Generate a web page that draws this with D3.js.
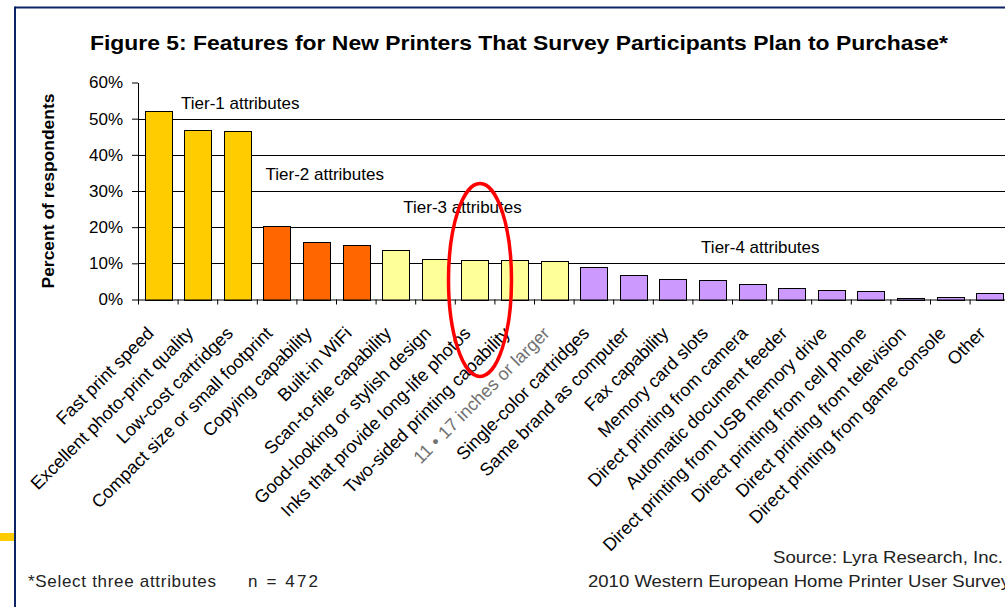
<!DOCTYPE html>
<html><head><meta charset="utf-8">
<script src="https://cdn.jsdelivr.net/npm/d3@7"></script>
<style>
body{margin:0;background:#fff;overflow:hidden;}
svg{display:block;font-family:"Liberation Sans",Arial,sans-serif;}
</style>
</head><body>
<svg id="c" width="1005" height="607"></svg>
<script>
// ---------- data ----------
const categories = [
  "Fast print speed","Excellent photo-print quality","Low-cost cartridges",
  "Compact size or small footprint","Copying capability","Built-in WiFi",
  "Scan-to-file capability","Good-looking or stylish design",
  "Inks that provide long-life photos","Two-sided printing capability",
  "11 \u2022 17 inches or larger","Single-color cartridges","Same brand as computer",
  "Fax capability","Memory card slots","Direct printing from camera",
  "Automatic document feeder","Direct printing from USB memory drive",
  "Direct printing from cell phone","Direct printing from television",
  "Direct printing from game console","Other"
];
const values = [0.520,0.468,0.465,0.204,0.158,0.152,0.138,0.113,0.109,0.109,0.106,
                0.090,0.069,0.057,0.053,0.042,0.032,0.026,0.023,0.004,0.006,0.017];
const tiers = [1,1,1,2,2,2,3,3,3,3,3,4,4,4,4,4,4,4,4,4,4,4];
const tierNames = ["Tier-1 attributes","Tier-2 attributes","Tier-3 attributes","Tier-4 attributes"];
const yTickValues = [0,0.1,0.2,0.3,0.4,0.5,0.6];
const titleText = "Figure 5: Features for New Printers That Survey Participants Plan to Purchase*";
const yTitle = "Percent of respondents";
const footLeft = ["*Select three attributes","n = 472"];
const footRight = ["Source: Lyra Research, Inc.","2010 Western European Home Printer User Survey"];

// ---------- layout / style ----------
const tierColors = {1:"#FFCC00",2:"#FF6600",3:"#FFFF99",4:"#CC99FF"};
const X0 = 138, X1 = 1009.2, Y0 = 299.5, Y1 = 82.5;
const svg = d3.select("#c");

// frame
svg.append("line").attr("x1",15).attr("x2",1005).attr("y1",7.5).attr("y2",7.5)
  .attr("stroke","#0C2466").attr("stroke-width",2);
svg.append("line").attr("x1",15).attr("x2",15).attr("y1",6.5).attr("y2",607)
  .attr("stroke","#0C2466").attr("stroke-width",2);
svg.append("rect").attr("x",0).attr("y",533).attr("width",14).attr("height",8).attr("fill","#FFCC00");

// title
svg.append("text").attr("x",90).attr("y",50).attr("font-size",21).attr("font-weight","bold")
  .attr("textLength",858).attr("lengthAdjust","spacingAndGlyphs").attr("fill","#000").text(titleText);

// scales
const x = d3.scaleBand().domain(categories).range([X0,X1]).paddingInner(0.33).paddingOuter(0.165);
const y = d3.scaleLinear().domain([0,0.6]).range([Y0,Y1]);
const xl = d3.scaleLinear().domain([0,categories.length]).range([X0,X1]);

// gridlines
svg.append("g").selectAll("line").data(yTickValues.filter(v=>v>0 && v<0.6)).join("line")
  .attr("x1",X0).attr("x2",X1).attr("y1",d=>Math.round(y(d))+0.5).attr("y2",d=>Math.round(y(d))+0.5)
  .attr("stroke","#000").attr("stroke-width",1);

// tier annotations
const tierPos = [[1.086,0.528],[3.22,0.330],[6.70,0.238],[14.22,0.128]];
svg.append("g").selectAll("text").data(tierNames).join("text")
  .attr("x",(d,i)=>xl(tierPos[i][0])).attr("y",(d,i)=>y(tierPos[i][1]))
  .attr("font-size",17).attr("fill","#000").text(d=>d);

// bars
svg.append("g").selectAll("rect").data(values).join("rect")
  .attr("x",(d,i)=>Math.round(x(categories[i]))+0.5)
  .attr("y",d=>Math.round(y(d))+0.5)
  .attr("width",Math.round(x.bandwidth()))
  .attr("height",d=>Math.max(0,Math.round(Y0)-Math.round(y(d))))
  .attr("fill",(d,i)=>tierColors[tiers[i]])
  .attr("stroke","#000").attr("stroke-width",1);

// y axis
const ya = svg.append("g").attr("transform",`translate(${X0},0)`)
  .call(d3.axisLeft(y).tickValues(yTickValues).tickFormat(d3.format(".0%")).tickSize(6).tickSizeOuter(0).tickPadding(9));
ya.selectAll("text").attr("font-size",17).attr("font-family","Liberation Sans, Arial, sans-serif").attr("fill","#000");
ya.selectAll("line,path").attr("stroke","#000");

// x axis (boundary ticks)
const xa = svg.append("g").attr("transform",`translate(0,${Y0})`)
  .call(d3.axisBottom(xl).tickValues(d3.range(categories.length+1)).tickFormat("").tickSize(5).tickSizeOuter(0));
xa.selectAll("line,path").attr("stroke","#000");

// category labels
svg.append("g").selectAll("text").data(categories).join("text")
  .attr("transform",d=>`translate(${x(d)+x.bandwidth()/2-3},${Y0+35}) rotate(-45)`)
  .attr("text-anchor","end").attr("font-size",18)
  .attr("fill",(d,i)=>i===10?"#707070":"#000")
  .text(d=>d);

// y title
svg.append("text").attr("transform","translate(54,191) rotate(-90)")
  .attr("text-anchor","middle").attr("font-size",17).attr("font-weight","bold")
  .attr("textLength",195).attr("lengthAdjust","spacingAndGlyphs").text(yTitle);

// footer
svg.append("text").attr("x",28).attr("y",587).attr("font-size",17)
  .attr("textLength",188).attr("lengthAdjust","spacing").attr("fill","#222").text(footLeft[0]);
svg.append("text").attr("x",248).attr("y",587).attr("font-size",17)
  .attr("textLength",70).attr("lengthAdjust","spacing").attr("fill","#222").text(footLeft[1]);
svg.append("text").attr("x",773).attr("y",563).attr("font-size",17)
  .attr("textLength",230).attr("lengthAdjust","spacingAndGlyphs").attr("fill","#222").text(footRight[0]);
svg.append("text").attr("x",588).attr("y",587).attr("font-size",17)
  .attr("textLength",422).attr("lengthAdjust","spacingAndGlyphs").attr("fill","#222").text(footRight[1]);

// red highlight ellipse around the 11 x 17 category
svg.append("ellipse").attr("cx",480).attr("cy",280).attr("rx",31.5).attr("ry",96.5)
  .attr("fill","none").attr("stroke","#FF0000").attr("stroke-width",3.5);
</script>
</body></html>
